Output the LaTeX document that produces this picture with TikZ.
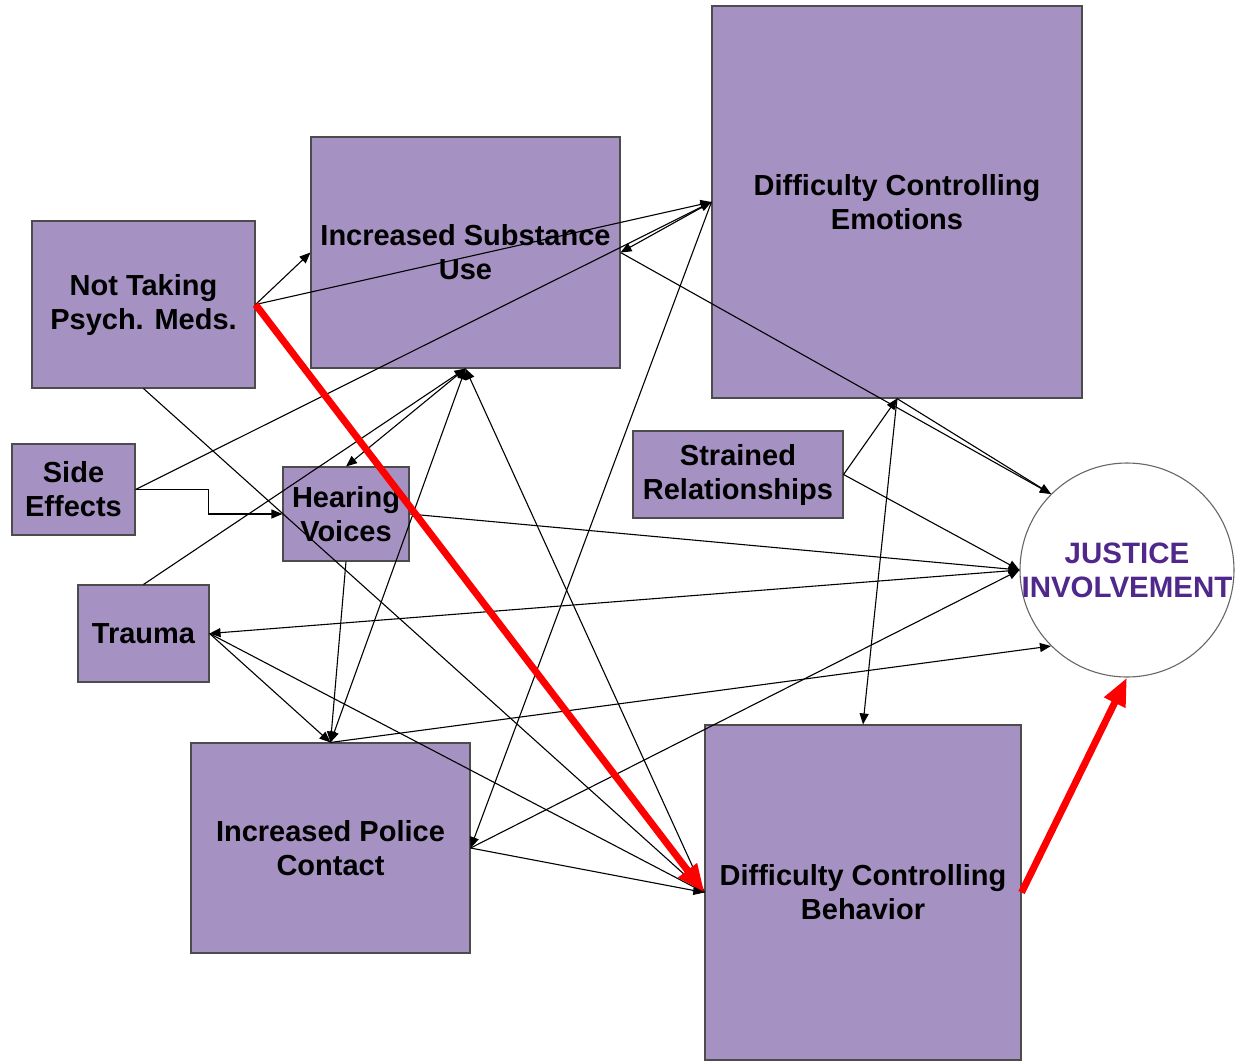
\documentclass[tikz,border=0pt]{standalone}
\usepackage{fontspec}
\setmainfont{Liberation Sans}
\usetikzlibrary{arrows.meta}
\definecolor{boxfill}{RGB}{165,146,194}
\definecolor{jitext}{RGB}{80,40,140}
\tikzset{
	box/.style={draw=black!70,fill=boxfill,rectangle,align=center,inner sep=0pt,font=\fontsize{29}{34}\selectfont\bfseries},
	ring/.style={draw=black!60,circle,inner sep=0pt,minimum size=214pt},
	ringtext/.style={align=center,inner sep=0pt,text=jitext,font=\fontsize{29.5}{34}\selectfont\bfseries},
	-tri/.style={-{Triangle[length=11pt,width=9pt]}},
	tri-tri/.style={{Triangle[length=11pt,width=9pt]}-{Triangle[length=11pt,width=9pt]}},
	redarrow/.style={red,line width=7pt,-{Triangle[length=28pt,width=22pt]}},
	every new ->/.style={shorten >=0pt}
}
\begin{document}
\begin{tikzpicture}[x=1pt,y=-1pt,line width=1.1pt]
            \useasboundingbox (0,0) rectangle (1235,1061);
            \node[box,minimum width=223pt,minimum height=167pt] (ntp) at (143.5,304.5) {Not Taking\\Psych. Meds.};
            \node[box,minimum width=309pt,minimum height=231pt] (isu) at (465.5,252.5) {Increased Substance\\Use};
            \node[box,minimum width=370pt,minimum height=392pt] (dce) at (897,202) {Difficulty Controlling\\Emotions};
            \node[box,minimum width=123pt,minimum height=91pt] (se) at (73.5,489.5) {Side\\Effects};
            \node[box,minimum width=126pt,minimum height=94pt] (hv) at (346,514) {Hearing\\Voices};
            \node[box,minimum width=210pt,minimum height=87pt] (sr) at (738,474.5) {Strained\\Relationships};
            \node[box,minimum width=131pt,minimum height=97pt] (tra) at (143.5,633.5) {Trauma};
            \node[box,minimum width=279pt,minimum height=210pt] (ipc) at (330.5,848) {Increased Police\\Contact};
            \node[box,minimum width=316pt,minimum height=335pt] (dcb) at (863,892.5) {Difficulty Controlling\\Behavior};
            \node[ring] (ji) at (1127,570) {};
            \node[ringtext] (jilabel) at (ji.center) {JUSTICE\\INVOLVEMENT};
            % links
            \draw[-tri] (ntp.east) -- (isu.west);
            \draw[-tri] (ntp.east) -- (dce.west);
            \draw[-tri] (ntp.south) -- (dcb.west);
            \draw[-tri] (se.east) -- (dce.west);
            \draw[-tri] (se.east) -- ++(73,0) |- (hv.west);
            \draw[-tri] (tra.north) -- (isu.south);
            \draw[-tri] (isu.south) -- (hv.north);
            \draw[tri-tri] (isu.south) -- (ipc.north);
            \draw[-tri] (dcb.west) -- (isu.south);
            \draw[-tri] (dce.west) -- (isu.east);
            \draw[-tri] (isu.east) -- (ji.135);
            \draw[-tri] (dce.west) -- (ipc.east);
            \draw[-tri] (sr.east) -- (dce.south);
            \draw[-tri] (dce.south) -- (dcb.north);
            \draw[-tri] (dce.south) -- (ji.135);
            \draw[-tri] (sr.east) -- (ji.west);
            \draw[-tri] (hv.east) -- (ji.west);
            \draw[-tri] (ji.west) -- (tra.east);
            \draw[-tri] (ipc.east) -- (ji.west);
            \draw[-tri] (tra.east) -- (ipc.north);
            \draw[-tri] (tra.east) -- (dcb.west);
            \draw[-tri] (hv.south) -- (ipc.north);
            \draw[-tri] (ipc.north) -- (ji.-135);
            \draw[-tri] (ipc.east) -- (dcb.west);
            % main path
            \draw[redarrow] (ntp.east) -- (dcb.west);
            \draw[redarrow] (dcb.east) -- (ji.south);
        \end{tikzpicture}
\end{document}
